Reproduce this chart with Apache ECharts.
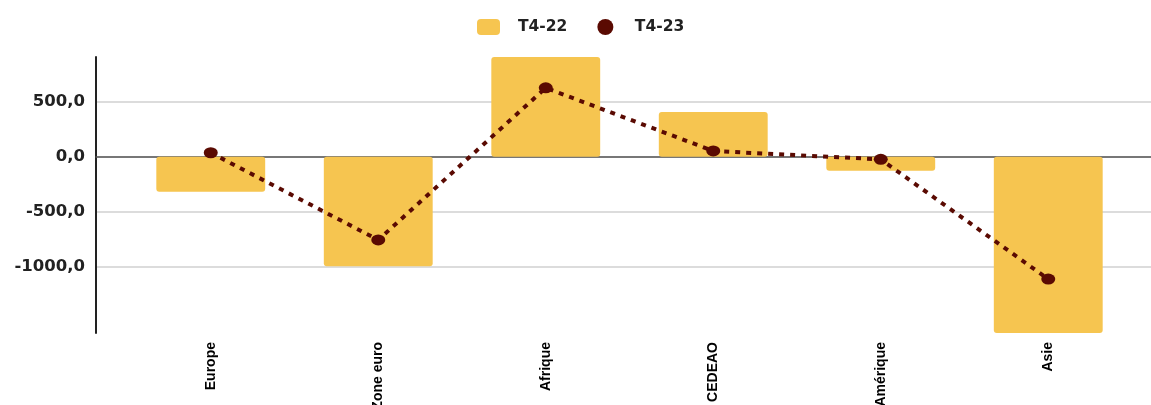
<!DOCTYPE html>
<html>
<head>
<meta charset="utf-8">
<script src="https://cdn.jsdelivr.net/npm/echarts@6/dist/echarts.min.js"></script>
<style>
html,body{margin:0;padding:0;background:#fff;}
#c{width:1151px;height:405px;}
</style>
</head>
<body>
<div id="c"></div>
<script>
const categories = ['Europe', 'Zone euro', 'Afrique', 'CEDEAO', 'Amérique', 'Asie'];
const t422 = [-318, -995, 905, 405, -127, -1600];
const t423 = [36, -755, 625, 52, -24, -1111];
const yTicks = [-1000, -500, 0, 500];
const yMin = -1600, yMax = 905;

const chart = echarts.init(document.getElementById('c'), null, {renderer: 'canvas'});
const fmt = v => v.toFixed(1).replace('.', ',');
chart.setOption({
  animation: false,
  backgroundColor: '#fff',
  legend: {
    top: 14, left: 472,
    itemWidth: 23, itemHeight: 16, itemGap: 30,
    textStyle: {fontFamily: 'DejaVu Sans', fontWeight: 'bold', fontSize: 15.5, color: '#222', padding: [0, 0, 0, 13]},
    data: [{name: 'T4-22', icon: 'roundRect'}, {name: 'T4-23', icon: 'circle'}]
  },
  grid: [
    {left: 96, right: 0, top: 57, bottom: 72, outerBoundsMode: 'none', containLabel: false},
    {left: 127, right: 19, top: 57, bottom: 72, outerBoundsMode: 'none', containLabel: false}
  ],
  xAxis: [
    {gridIndex: 0, type: 'value', min: 0, max: 1,
      axisLine: {show: true, onZero: true, lineStyle: {color: '#555', width: 1.5}},
      axisTick: {show: false}, axisLabel: {show: false}, splitLine: {show: false}},
    {gridIndex: 1, type: 'category', data: categories,
      axisLine: {show: false, onZero: false}, axisTick: {show: false},
      axisLabel: {rotate: 90, margin: 9, color: '#000', fontFamily: 'Liberation Sans', fontWeight: 'bold', fontSize: 14}}
  ],
  yAxis: [
    {gridIndex: 0, type: 'value', min: yMin, max: yMax,
      axisLine: {show: true, lineStyle: {color: '#222', width: 2}},
      axisTick: {show: false, customValues: yTicks},
      axisLabel: {customValues: yTicks, formatter: fmt, margin: 11, color: '#222', fontFamily: 'DejaVu Sans', fontWeight: 'bold', fontSize: 16.5},
      splitLine: {show: true, lineStyle: {color: '#dcdcdc', width: 2}}},
    {gridIndex: 1, type: 'value', min: yMin, max: yMax, show: false, splitLine: {show: false}}
  ],
  series: [
    {name: 'T4-22', type: 'bar', xAxisIndex: 1, yAxisIndex: 1, data: t422, barWidth: '65%',
      itemStyle: {color: '#F6C550', borderRadius: 3}},
    {name: 'T4-23', type: 'line', xAxisIndex: 1, yAxisIndex: 1, data: t423, z: 5,
      symbol: 'circle', symbolSize: [14, 11],
      itemStyle: {color: '#5A0A02'},
      lineStyle: {color: '#5A0A02', width: 4, type: [5, 6]}}
  ]
});
</script>
</body>
</html>
